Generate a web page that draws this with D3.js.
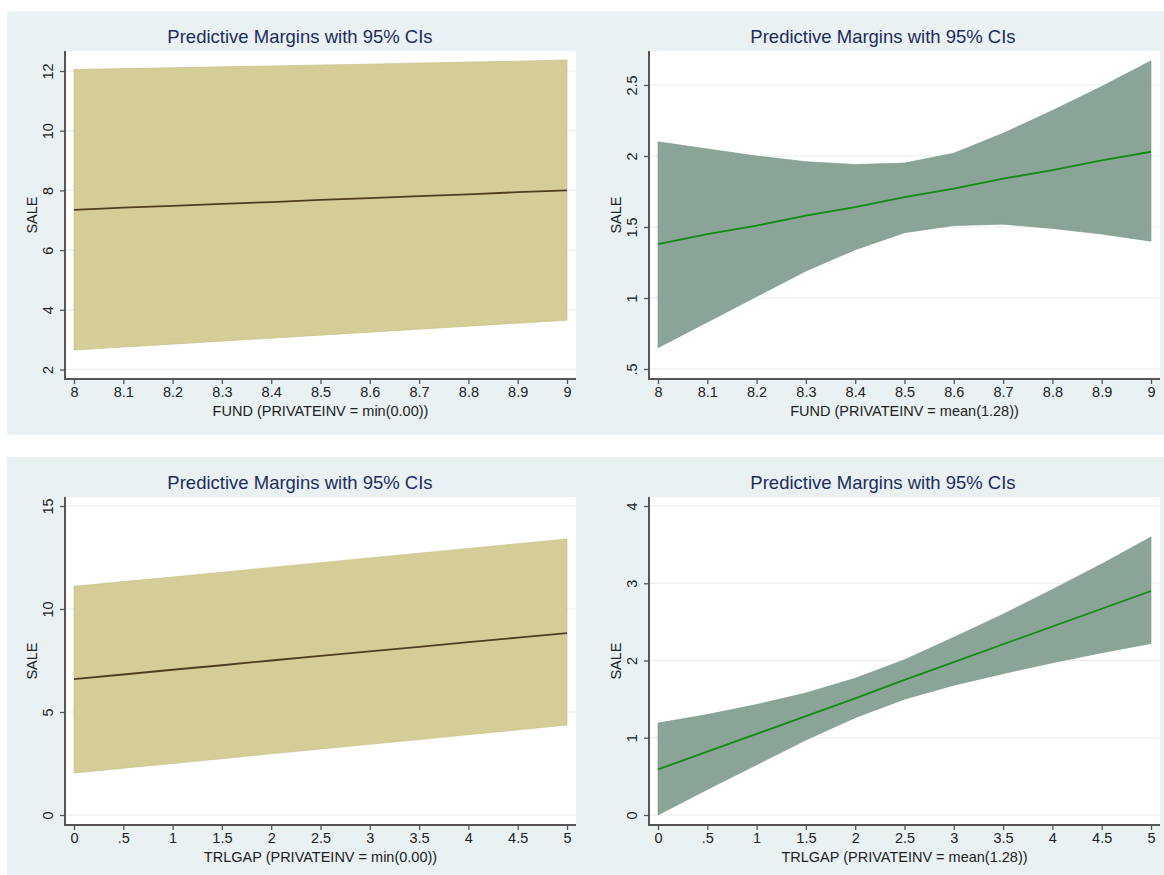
<!doctype html>
<html>
  <head>
    <meta charset="utf-8">
    <title>Predictive Margins with 95% CIs</title>
    <script src="https://cdn.jsdelivr.net/npm/d3@7"></script>
    <style>
      body { margin: 0; background: #fff; }
      svg { display: block; font-family: "Liberation Sans", Arial, sans-serif; }
    </style>
  </head>
  <body>
    <svg id="chart" width="1164" height="875"></svg>

    <script>
      // x values and tick labels
      var fundX = [8, 8.1, 8.2, 8.3, 8.4, 8.5, 8.6, 8.7, 8.8, 8.9, 9];
      var fundTickLabels = ['8', '8.1', '8.2', '8.3', '8.4', '8.5', '8.6', '8.7', '8.8', '8.9', '9'];
      var gapX = [0, 0.5, 1, 1.5, 2, 2.5, 3, 3.5, 4, 4.5, 5];
      var gapTickLabels = ['0', '.5', '1', '1.5', '2', '2.5', '3', '3.5', '4', '4.5', '5'];

      // FUND, PRIVATEINV = min(0.00)
      var fundMinMargin = [7.35, 7.42, 7.48, 7.55, 7.61, 7.68, 7.74, 7.81, 7.87, 7.94, 8.0];
      var fundMinLow = [2.65, 2.75, 2.85, 2.95, 3.05, 3.15, 3.25, 3.35, 3.45, 3.55, 3.65];
      var fundMinHigh = [12.05, 12.08, 12.11, 12.14, 12.17, 12.2, 12.23, 12.27, 12.3, 12.33, 12.37];

      // FUND, PRIVATEINV = mean(1.28)
      var fundMeanMargin = [1.38, 1.45, 1.51, 1.58, 1.64, 1.71, 1.77, 1.84, 1.9, 1.97, 2.03];
      var fundMeanLow = [0.65, 0.83, 1.01, 1.19, 1.34, 1.46, 1.51, 1.52, 1.49, 1.45, 1.40];
      var fundMeanHigh = [2.10, 2.05, 2.0, 1.96, 1.94, 1.95, 2.02, 2.16, 2.32, 2.49, 2.67];

      // TRLGAP, PRIVATEINV = min(0.00)
      var gapMinMargin = [6.6, 6.82, 7.05, 7.27, 7.5, 7.72, 7.94, 8.16, 8.39, 8.61, 8.83];
      var gapMinLow = [2.04, 2.27, 2.5, 2.73, 2.97, 3.2, 3.43, 3.66, 3.9, 4.13, 4.37];
      var gapMinHigh = [11.1, 11.33, 11.55, 11.78, 12.02, 12.25, 12.48, 12.71, 12.94, 13.17, 13.4];

      // TRLGAP, PRIVATEINV = mean(1.28)
      var gapMeanMargin = [0.59, 0.82, 1.05, 1.28, 1.51, 1.75, 1.98, 2.21, 2.44, 2.67, 2.9];
      var gapMeanLow = [0.0, 0.33, 0.65, 0.97, 1.26, 1.5, 1.68, 1.83, 1.97, 2.1, 2.22];
      var gapMeanHigh = [1.19, 1.3, 1.43, 1.58, 1.77, 2.01, 2.3, 2.6, 2.92, 3.25, 3.6];

      // y ticks
      var yTicksA = [2, 4, 6, 8, 10, 12];
      var yTicksB = [0.5, 1, 1.5, 2, 2.5];
      var yTicksC = [0, 5, 10, 15];
      var yTicksD = [0, 1, 2, 3, 4];
      var yLabelsB = ['.5', '1', '1.5', '2', '2.5'];

      var titleText = 'Predictive Margins with 95% CIs';

      var khaki = { fill: '#d4cd98', edge: '#c4bc80', line: '#4e3d22' };
      var sage = { fill: '#8aa598', edge: '#7a9588', line: '#138a13' };

      var panels = [
        { col: 0, row: 0, x: fundX, ticks: fundX, tickLabels: fundTickLabels,
          mid: fundMinMargin, lo: fundMinLow, hi: fundMinHigh,
          yTicks: yTicksA, yLabels: null, yDom: [2, 12], yPx: [369.5, 71],
          xTitle: 'FUND (PRIVATEINV = min(0.00))', colors: khaki },
        { col: 1, row: 0, x: fundX, ticks: fundX, tickLabels: fundTickLabels,
          mid: fundMeanMargin, lo: fundMeanLow, hi: fundMeanHigh,
          yTicks: yTicksB, yLabels: yLabelsB, yDom: [0.5, 2.5], yPx: [369, 85],
          xTitle: 'FUND (PRIVATEINV = mean(1.28))', colors: sage },
        { col: 0, row: 1, x: gapX, ticks: gapX, tickLabels: gapTickLabels,
          mid: gapMinMargin, lo: gapMinLow, hi: gapMinHigh,
          yTicks: yTicksC, yLabels: null, yDom: [0, 15], yPx: [369, 60],
          xTitle: 'TRLGAP (PRIVATEINV = min(0.00))', colors: khaki },
        { col: 1, row: 1, x: gapX, ticks: gapX, tickLabels: gapTickLabels,
          mid: gapMeanMargin, lo: gapMeanLow, hi: gapMeanHigh,
          yTicks: yTicksD, yLabels: null, yDom: [0, 4], yPx: [369, 60],
          xTitle: 'TRLGAP (PRIVATEINV = mean(1.28))', colors: sage }
      ];

      var svg = d3.select('#chart');
      var rowDy = 446;
      var cols = [
        { axisX: 65, right: 576, x0: 74, x1: 567, titleX: 300 },
        { axisX: 649, right: 1160, x0: 658, x1: 1151, titleX: 883 }
      ];
      var plotTop = 51, plotBottom = 379;

      // row backgrounds
      svg.append('rect').attr('x', 7).attr('y', 11).attr('width', 1157).attr('height', 424).attr('fill', '#e9f1f3');
      svg.append('rect').attr('x', 7).attr('y', 457).attr('width', 1157).attr('height', 418).attr('fill', '#e9f1f3');

      panels.forEach(function (p) {
        var c = cols[p.col];
        var dy = p.row * rowDy;
        var g = svg.append('g').attr('transform', 'translate(0,' + dy + ')');

        var x = d3.scaleLinear().domain([p.x[0], p.x[p.x.length - 1]]).range([c.x0, c.x1]);
        var y = d3.scaleLinear().domain(p.yDom).range(p.yPx);

        // plot region
        g.append('rect')
          .attr('x', c.axisX).attr('y', plotTop)
          .attr('width', c.right - c.axisX).attr('height', plotBottom - plotTop)
          .attr('fill', '#fff');

        // gridlines
        g.selectAll('.grid')
          .data(p.yTicks)
          .enter()
          .append('line')
          .attr('x1', c.axisX).attr('x2', c.right)
          .attr('y1', function (d) { return y(d); })
          .attr('y2', function (d) { return y(d); })
          .attr('stroke', '#e6eef0')
          .attr('stroke-width', 1.2);

        var pts = p.x.map(function (v, i) {
          return { x: v, lo: p.lo[i], hi: p.hi[i], mid: p.mid[i] };
        });

        // confidence band
        g.append('path')
          .datum(pts)
          .attr('d', d3.area()
            .x(function (d) { return x(d.x); })
            .y0(function (d) { return y(d.lo); })
            .y1(function (d) { return y(d.hi); }))
          .attr('fill', p.colors.fill)
          .attr('stroke', p.colors.edge)
          .attr('stroke-width', 0.6);

        // margin line
        g.append('path')
          .datum(pts)
          .attr('d', d3.line()
            .x(function (d) { return x(d.x); })
            .y(function (d) { return y(d.mid); }))
          .attr('fill', 'none')
          .attr('stroke', p.colors.line)
          .attr('stroke-width', 1.8);

        // x axis
        var xAxis = d3.axisBottom(x)
          .tickValues(p.ticks)
          .tickFormat(function (d, i) { return p.tickLabels[i]; })
          .tickSize(5)
          .tickPadding(3);
        var gx = g.append('g').attr('transform', 'translate(0,' + plotBottom + ')').call(xAxis);
        gx.select('.domain').remove();
        gx.selectAll('line').attr('stroke', '#555').attr('stroke-width', 1.3);
        gx.selectAll('text')
          .attr('font-size', 14.5)
          .attr('font-family', '"Liberation Sans", Arial, sans-serif')
          .attr('fill', '#222')
          .attr('dy', '0.71em');

        // y axis
        var yAxis = d3.axisLeft(y)
          .tickValues(p.yTicks)
          .tickFormat(function (d, i) { return p.yLabels ? p.yLabels[i] : String(d); })
          .tickSize(5);
        var gy = g.append('g').attr('transform', 'translate(' + c.axisX + ',0)').call(yAxis);
        gy.select('.domain').remove();
        gy.selectAll('line').attr('stroke', '#555').attr('stroke-width', 1.3);
        gy.selectAll('text')
          .attr('font-size', 14.5)
          .attr('font-family', '"Liberation Sans", Arial, sans-serif')
          .attr('fill', '#222')
          .attr('text-anchor', 'middle')
          .attr('x', 0)
          .attr('y', -12)
          .attr('dy', 0)
          .attr('transform', 'rotate(-90)');

        // axis lines
        g.append('line')
          .attr('x1', c.axisX).attr('x2', c.axisX)
          .attr('y1', plotTop).attr('y2', plotBottom)
          .attr('stroke', '#555').attr('stroke-width', 2);
        g.append('line')
          .attr('x1', c.axisX - 1).attr('x2', c.right)
          .attr('y1', plotBottom).attr('y2', plotBottom)
          .attr('stroke', '#555').attr('stroke-width', 2);

        // titles
        g.append('text')
          .attr('x', c.titleX).attr('y', 43)
          .attr('text-anchor', 'middle')
          .attr('font-size', 18.5)
          .attr('fill', '#1c2d5c')
          .text(titleText);

        g.append('text')
          .attr('x', (c.axisX + c.right) / 2).attr('y', 416)
          .attr('text-anchor', 'middle')
          .attr('font-size', 14.5)
          .attr('fill', '#222')
          .text(p.xTitle);

        g.append('text')
          .attr('transform', 'translate(' + (c.axisX - 28) + ',' + ((plotTop + plotBottom) / 2) + ') rotate(-90)')
          .attr('text-anchor', 'middle')
          .attr('font-size', 14.5)
          .attr('fill', '#222')
          .text('SALE');
      });
    </script>
  </body>
</html>
